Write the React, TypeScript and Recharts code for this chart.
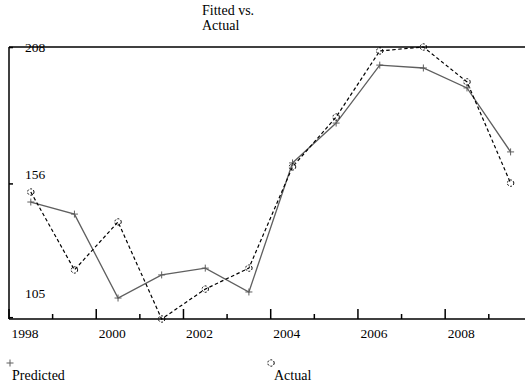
import { Line, LineChart, XAxis, YAxis } from "recharts";

const YEARS = [1998, 1999, 2000, 2001, 2002, 2003, 2004, 2005, 2006, 2007, 2008, 2009];
const PREDICTED = [149.1, 144.5, 112.5, 121.3, 123.9, 114.8, 164.0, 179.2, 201.3, 200.2, 192.6, 168.2];
const ACTUAL = [152.9, 123.2, 141.5, 104.5, 115.9, 123.9, 162.5, 181.5, 206.7, 208.2, 194.9, 156.3];
const X_TICKS = [1998, 1999, 2000, 2001, 2002, 2003, 2004, 2005, 2006, 2007, 2008, 2009];
const Y_TICKS = [105, 156, 208];
const X_DOMAIN = [1998, 2009.83];

const FONT = "Liberation Serif";
const GRAY = "#5f5f5f";

// mid-year points
const rows = YEARS.map((year, i) => ({ x: year + 0.5, predicted: PREDICTED[i], actual: ACTUAL[i] }));

function XTick({ x, y, payload }: any) {
  const major = payload.value % 2 === 0;
  return (
    <g>
      <line x1={x} x2={x} y1={y} y2={y - (major ? 10 : 5)} stroke="#000" strokeWidth={1.5} />
      {major && (
        <text x={x + 16} y={y + 19} textAnchor="middle" fontFamily={FONT} fontSize={13.5} fill="#000">
          {payload.value}
        </text>
      )}
    </g>
  );
}

const Y_LABEL_DY: Record<number, number> = { 105: -20, 156: -5, 208: 4 };

function YTick({ x, y, payload }: any) {
  return (
    <g>
      <line x1={x} x2={x + 4} y1={y} y2={y} stroke="#000" strokeWidth={1.5} />
      <text x={x + 16} y={y + (Y_LABEL_DY[payload.value] ?? 0)} textAnchor="start" fontFamily={FONT} fontSize={13.5} fill="#000">
        {payload.value}
      </text>
    </g>
  );
}

function PlusDot({ cx, cy }: any) {
  if (cx == null || cy == null) return null;
  return (
    <g stroke={GRAY} strokeWidth={1}>
      <line x1={cx - 3.5} x2={cx + 3.5} y1={cy} y2={cy} />
      <line x1={cx} x2={cx} y1={cy - 3.5} y2={cy + 3.5} />
    </g>
  );
}

function CircleDot({ cx, cy }: any) {
  if (cx == null || cy == null) return null;
  return <circle cx={cx} cy={cy} r={3.2} fill="none" stroke="#000" strokeWidth={1} strokeDasharray="2 1.5" />;
}

export default function App() {
  return (
    <div style={{ position: "absolute", left: 0, top: 0, width: 525, height: 385, background: "#fff", fontFamily: FONT }}>
      <div style={{ position: "absolute", left: 202, top: 3, fontSize: 14, lineHeight: "15px", color: "#000" }}>
        Fitted vs.
        <br />
        Actual
      </div>
      <LineChart width={525} height={385} data={rows} margin={{ top: 46, right: 0, bottom: 65, left: 8 }}>
        <XAxis
          dataKey="x"
          type="number"
          domain={X_DOMAIN}
          ticks={X_TICKS}
          interval={0}
          height={1}
          tickSize={0}
          tickMargin={0}
          tick={<XTick />}
          tickLine={false}
          axisLine={{ stroke: "#000", strokeWidth: 1.5 }}
          allowDataOverflow
        />
        <XAxis
          xAxisId="top"
          orientation="top"
          dataKey="x"
          type="number"
          domain={X_DOMAIN}
          height={1}
          tick={false}
          tickLine={false}
          axisLine={{ stroke: "#000", strokeWidth: 1.5 }}
          allowDataOverflow
        />
        <YAxis
          type="number"
          domain={["dataMin", "dataMax"]}
          ticks={Y_TICKS}
          interval={0}
          width={1}
          tickSize={0}
          tickMargin={0}
          tick={<YTick />}
          tickLine={false}
          axisLine={{ stroke: "#000", strokeWidth: 1.5 }}
        />
        <Line
          dataKey="predicted"
          stroke={GRAY}
          strokeWidth={1.3}
          dot={<PlusDot />}
          activeDot={false}
          isAnimationActive={false}
        />
        <Line
          dataKey="actual"
          stroke="#000"
          strokeWidth={1.2}
          strokeDasharray="3.5 2.5"
          dot={<CircleDot />}
          activeDot={false}
          isAnimationActive={false}
        />
      </LineChart>
      <svg width={525} height={30} style={{ position: "absolute", left: 0, top: 355 }}>
        <PlusDot cx={10} cy={8} />
        <text x={12} y={25} fontFamily={FONT} fontSize={14} fill="#000">Predicted</text>
        <CircleDot cx={271} cy={8} />
        <text x={274} y={25} fontFamily={FONT} fontSize={14} fill="#000">Actual</text>
      </svg>
    </div>
  );
}
